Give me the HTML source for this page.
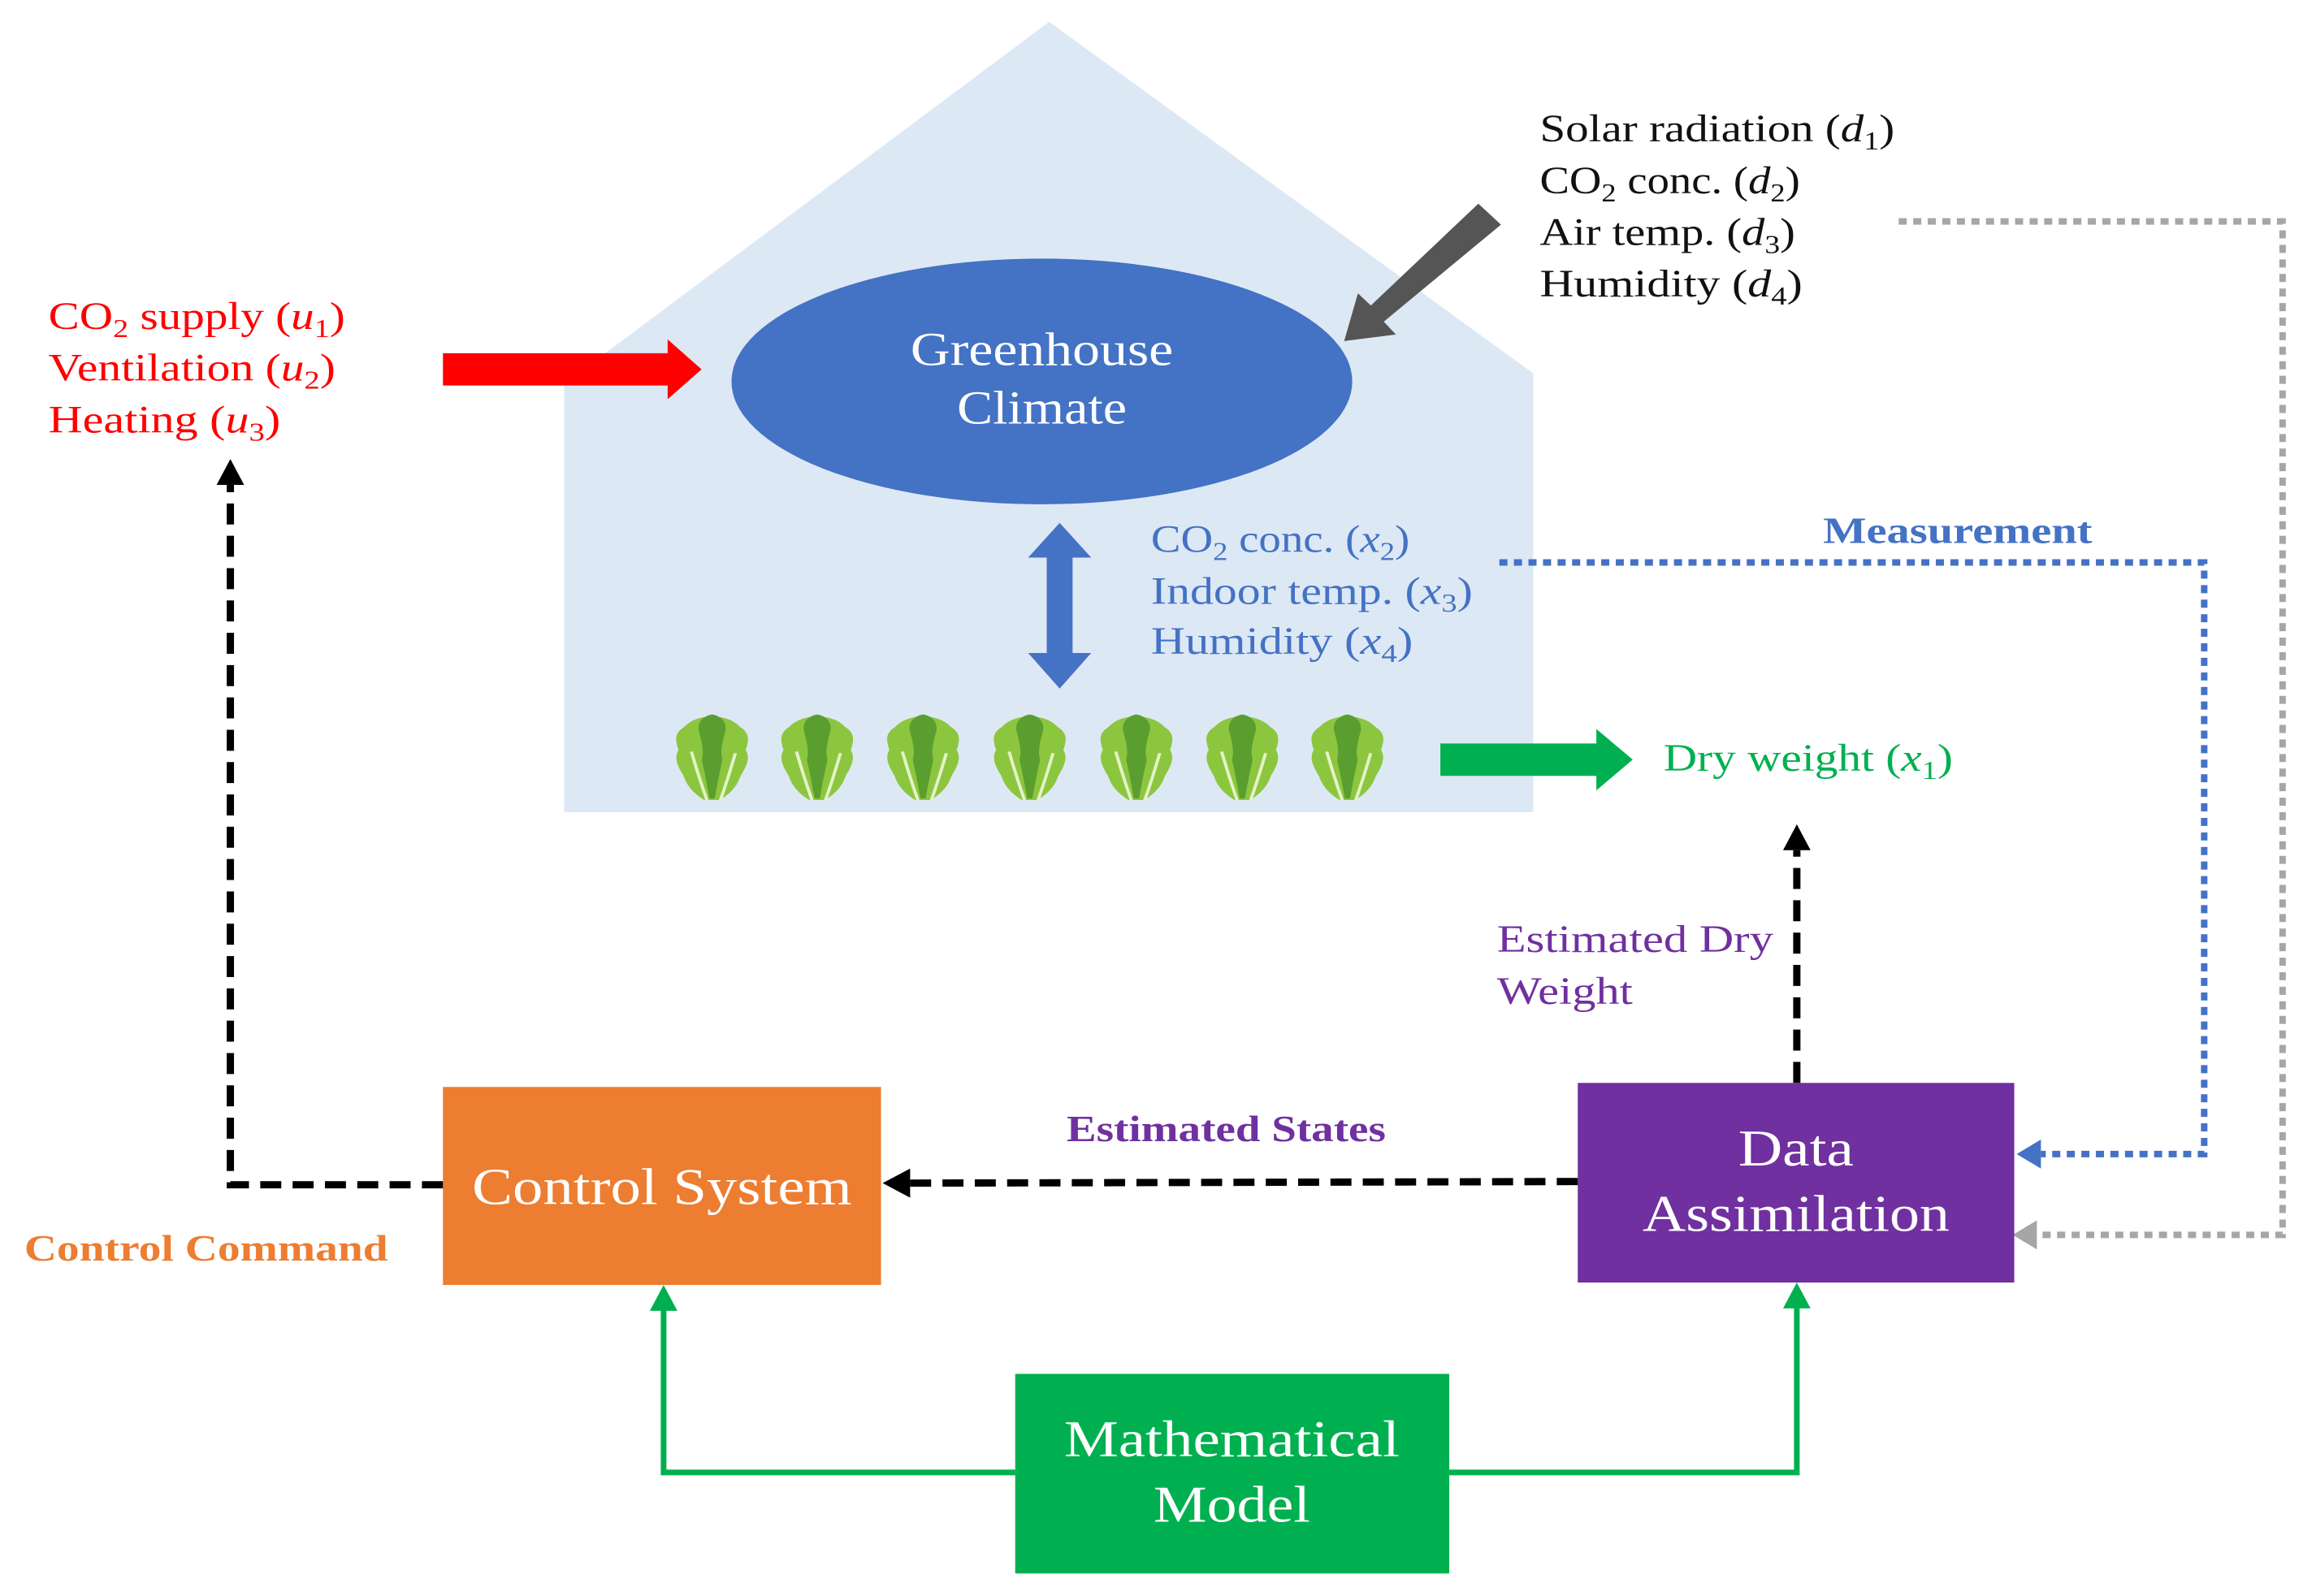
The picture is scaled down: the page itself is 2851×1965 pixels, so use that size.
<!DOCTYPE html>
<html><head><meta charset="utf-8"><style>
html,body{margin:0;padding:0;background:#fff;}
svg{display:block;}
text{font-family:"Liberation Serif",serif;}
</style></head><body>
<svg width="2851" height="1965" viewBox="0 0 2851 1965" xmlns="http://www.w3.org/2000/svg">
<defs>
<g id="lettuce">
<g transform="scale(1.6,1)">
<path d="M0,-52 C14,-50 18,-44 22,-38 C30,-30 28,-20 26,-10 C30,0 26,12 22,22 C20,32 16,42 6,52 L-6,52 C-16,42 -20,32 -22,22 C-26,12 -30,0 -26,-10 C-28,-20 -30,-30 -22,-38 C-18,-44 -14,-50 0,-52Z" fill="#8cc63f"/>
<path d="M0,-54 C8,-52 12,-42 10,-32 C8,-20 6,-8 8,2 C6,16 4,32 2,50 L-2,50 C-4,32 -6,16 -8,2 C-6,-8 -8,-20 -10,-32 C-12,-42 -8,-52 0,-54Z" fill="#5a9e2f"/>
<path d="M-16,-8 C-12,14 -8,34 -4,52" stroke="#e4f3c8" stroke-width="2.5" fill="none"/>
<path d="M18,-6 C14,16 10,36 6,54" stroke="#e4f3c8" stroke-width="2.5" fill="none"/>
</g>
</g>
</defs>
<g transform="scale(0.995)">
<polygon points="1298,27 1897,462 1897,1005 698,1005 698,475" fill="#dde8f5"/>
<ellipse cx="1289" cy="472" rx="384" ry="152" fill="#4472c4"/>
<text x="1289" y="452" font-size="58" fill="#fff" text-anchor="middle" textLength="325" lengthAdjust="spacingAndGlyphs">Greenhouse</text>
<text x="1289" y="524" font-size="58" fill="#fff" text-anchor="middle" textLength="210" lengthAdjust="spacingAndGlyphs">Climate</text>
<polygon points="548,437 826,437 826,420 868,457 826,494 826,477 548,477" fill="#ff0000"/>
<polygon points="1829,252 1857,278 1712,398 1727,414 1663,422 1680,363 1696,378" fill="#555"/>
<g font-size="48" fill="#111">
<text x="1905" y="175" textLength="439" lengthAdjust="spacingAndGlyphs">Solar radiation (<tspan font-style="italic">d</tspan><tspan font-size="32" dy="10">1</tspan><tspan dy="-10">)</tspan></text>
<text x="1905" y="239" textLength="322" lengthAdjust="spacingAndGlyphs">CO<tspan font-size="32" dy="10">2</tspan><tspan dy="-10"> conc. (</tspan><tspan font-style="italic">d</tspan><tspan font-size="32" dy="10">2</tspan><tspan dy="-10">)</tspan></text>
<text x="1905" y="303" textLength="316" lengthAdjust="spacingAndGlyphs">Air temp. (<tspan font-style="italic">d</tspan><tspan font-size="32" dy="10">3</tspan><tspan dy="-10">)</tspan></text>
<text x="1905" y="367" textLength="325" lengthAdjust="spacingAndGlyphs">Humidity (<tspan font-style="italic">d</tspan><tspan font-size="32" dy="10">4</tspan><tspan dy="-10">)</tspan></text>
</g>
<g font-size="48" fill="#ff0000">
<text x="60" y="407" textLength="367" lengthAdjust="spacingAndGlyphs">CO<tspan font-size="32" dy="10">2</tspan><tspan dy="-10"> supply (</tspan><tspan font-style="italic">u</tspan><tspan font-size="32" dy="10">1</tspan><tspan dy="-10">)</tspan></text>
<text x="60" y="471" textLength="355" lengthAdjust="spacingAndGlyphs">Ventilation (<tspan font-style="italic">u</tspan><tspan font-size="32" dy="10">2</tspan><tspan dy="-10">)</tspan></text>
<text x="60" y="535" textLength="287" lengthAdjust="spacingAndGlyphs">Heating (<tspan font-style="italic">u</tspan><tspan font-size="32" dy="10">3</tspan><tspan dy="-10">)</tspan></text>
</g>
<polygon points="1311,647 1350,690 1327,690 1327,808 1350,808 1311,852 1272,808 1295,808 1295,690 1272,690" fill="#4472c4"/>
<g font-size="48" fill="#4472c4">
<text x="1424" y="683" textLength="320" lengthAdjust="spacingAndGlyphs">CO<tspan font-size="32" dy="10">2</tspan><tspan dy="-10"> conc. (</tspan><tspan font-style="italic">x</tspan><tspan font-size="32" dy="10">2</tspan><tspan dy="-10">)</tspan></text>
<text x="1424" y="747" textLength="398" lengthAdjust="spacingAndGlyphs">Indoor temp. (<tspan font-style="italic">x</tspan><tspan font-size="32" dy="10">3</tspan><tspan dy="-10">)</tspan></text>
<text x="1424" y="809" textLength="324" lengthAdjust="spacingAndGlyphs">Humidity (<tspan font-style="italic">x</tspan><tspan font-size="32" dy="10">4</tspan><tspan dy="-10">)</tspan></text>
</g>
<use href="#lettuce" x="881" y="938"/>
<use href="#lettuce" x="1011" y="938"/>
<use href="#lettuce" x="1142" y="938"/>
<use href="#lettuce" x="1274" y="938"/>
<use href="#lettuce" x="1406" y="938"/>
<use href="#lettuce" x="1537" y="938"/>
<use href="#lettuce" x="1667" y="938"/>
<polygon points="1782,920 1975,920 1975,902 2020,940 1975,978 1975,960 1782,960" fill="#00b050"/>
<text x="2058" y="954" font-size="48" fill="#00b050" textLength="358" lengthAdjust="spacingAndGlyphs">Dry weight (<tspan font-style="italic">x</tspan><tspan font-size="32" dy="10">1</tspan><tspan dy="-10">)</tspan></text>
<text x="2422" y="672" font-size="46" font-weight="bold" fill="#4472c4" text-anchor="middle" textLength="333" lengthAdjust="spacingAndGlyphs">Measurement</text>
<polyline points="1855,696 2727,696 2727,1428 2525,1428" fill="none" stroke="#4472c4" stroke-width="8" stroke-dasharray="10,8"/>
<polygon points="2495,1428 2525,1410 2525,1446" fill="#4472c4"/>
<polyline points="2349,274 2824,274 2824,1528 2520,1528" fill="none" stroke="#a6a6a6" stroke-width="8" stroke-dasharray="10,8"/>
<polygon points="2490,1528 2520,1510 2520,1546" fill="#a6a6a6"/>
<rect x="1952" y="1340" width="540" height="247" fill="#7030a0"/>
<text x="2222" y="1442" font-size="64" fill="#fff" text-anchor="middle" textLength="143" lengthAdjust="spacingAndGlyphs">Data</text>
<text x="2222" y="1523" font-size="64" fill="#fff" text-anchor="middle" textLength="380" lengthAdjust="spacingAndGlyphs">Assimilation</text>
<rect x="548" y="1345" width="542" height="245" fill="#ed7d31"/>
<text x="819" y="1490" font-size="64" fill="#fff" text-anchor="middle" textLength="470" lengthAdjust="spacingAndGlyphs">Control System</text>
<rect x="1256" y="1700" width="537" height="247" fill="#00b050"/>
<text x="1524" y="1802" font-size="64" fill="#fff" text-anchor="middle" textLength="415" lengthAdjust="spacingAndGlyphs">Mathematical</text>
<text x="1524" y="1883" font-size="64" fill="#fff" text-anchor="middle" textLength="194" lengthAdjust="spacingAndGlyphs">Model</text>
<text x="1517" y="1412" font-size="46" font-weight="bold" fill="#7030a0" text-anchor="middle" textLength="395" lengthAdjust="spacingAndGlyphs">Estimated States</text>
<line x1="1952" y1="1462" x2="1125" y2="1464" stroke="#000" stroke-width="9" stroke-dasharray="26,14"/>
<polygon points="1092,1464 1126,1446 1126,1482" fill="#000"/>
<polyline points="548,1466 285,1466 285,600" fill="none" stroke="#000" stroke-width="9" stroke-dasharray="26,14"/>
<polygon points="285,568 268,600 302,600" fill="#000"/>
<text x="30" y="1560" font-size="46" font-weight="bold" fill="#ed7d31" textLength="450" lengthAdjust="spacingAndGlyphs">Control Command</text>
<line x1="2223" y1="1340" x2="2223" y2="1052" stroke="#000" stroke-width="9" stroke-dasharray="26,14"/>
<polygon points="2223,1020 2206,1052 2240,1052" fill="#000"/>
<text x="1852" y="1178" font-size="48" fill="#7030a0" textLength="342" lengthAdjust="spacingAndGlyphs">Estimated Dry</text>
<text x="1852" y="1242" font-size="48" fill="#7030a0" textLength="168" lengthAdjust="spacingAndGlyphs">Weight</text>
<polyline points="1256,1822 821,1822 821,1620" fill="none" stroke="#00b050" stroke-width="7"/>
<polygon points="821,1590 804,1622 838,1622" fill="#00b050"/>
<polyline points="1793,1822 2223,1822 2223,1617" fill="none" stroke="#00b050" stroke-width="7"/>
<polygon points="2223,1587 2206,1619 2240,1619" fill="#00b050"/>
</g>
</svg>
</body></html>
